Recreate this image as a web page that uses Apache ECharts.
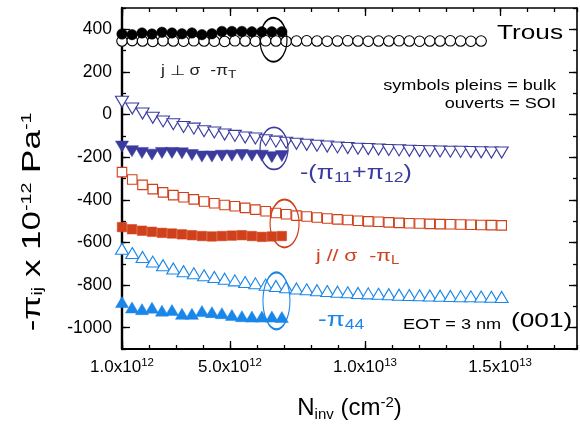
<!DOCTYPE html>
<html>
<head>
<meta charset="utf-8">
<script src="https://cdn.jsdelivr.net/npm/echarts@6/dist/echarts.min.js"></script>
<style>html,body{margin:0;padding:0;background:#fff;}#c{width:580px;height:437px;}</style>
</head>
<body>
<div id="c"></div>
<script>
// x values in units of 1e12 cm^-2
const nSOI = [1.00,1.38,1.76,2.14,2.52,2.90,3.28,3.66,4.04,4.42,4.80,5.18,5.56,5.94,6.32,6.70,7.08,7.46,7.84,8.22,8.60,8.98,9.36,9.74,10.12,10.50,10.88,11.26,11.64,12.02,12.40,12.78,13.16,13.54,13.92,14.30,14.68,15.06];
const nBulk = [1.00,1.37,1.74,2.11,2.48,2.85,3.22,3.59,3.96,4.33,4.70,5.07,5.44,5.81,6.18,6.55,6.92];

const trousBulk = [378,375,383,378,386,383,379,383,375,379,390,390,390,388,388,388,388];
const trousSOI = [345,347,345,343,346,345,344,346,345,344,343,346,345,344,346,345,343,345,346,345,344,345,346,345,344,345,345,346,345,344,345,345,346,345,344,345];
const p1112Bulk = [-150,-172,-180,-188,-180,-180,-182,-190,-197,-197,-193,-193,-190,-193,-193,-200,-195];
const p1112SOI = [60,28,5,-15,-32,-45,-58,-66,-78,-84,-94,-100,-108,-112,-120,-127,-132,-137,-142,-146,-150,-154,-157,-160,-162,-164,-166,-168,-170,-171,-172,-173,-174,-175,-176,-177,-178,-178];
const pLBulk = [-528,-538,-545,-550,-555,-558,-562,-566,-570,-572,-570,-568,-566,-570,-574,-572,-570];
const pLSOI = [-270,-305,-330,-350,-365,-378,-388,-398,-408,-416,-424,-430,-438,-446,-454,-462,-468,-474,-478,-483,-488,-492,-495,-498,-501,-503,-506,-508,-510,-511,-513,-514,-515,-516,-517,-518,-519,-520];
const p44Bulk = [-880,-905,-913,-906,-920,-917,-935,-935,-922,-927,-932,-940,-946,-948,-948,-948,-950];
const p44SOI = [-630,-650,-668,-690,-707,-722,-735,-745,-754,-762,-770,-778,-786,-792,-798,-804,-810,-816,-820,-824,-828,-831,-834,-837,-839,-841,-843,-845,-847,-848,-849,-850,-851,-852,-853,-854,-855,-856];

const xMajor = [1, 5, 10, 15];
const xTickLabels = ['1.0x10{sup|12}', '5.0x10{sup|12}', '1.0x10{sup|13}', '1.5x10{sup|13}'];
const yMajor = [-1000,-800,-600,-400,-200,0,200,400];

// ellipse annotations (centre in data units)
const ellipses = [
  {c:[6.61, 351], color:'#000', size:[27,44]},
  {c:[6.63, -159], color:'#3b3b9e', size:[28,42]},
  {c:[7.02, -511], color:'#d0401a', size:[29,48]},
  {c:[6.72, -874], color:'#1a86e8', size:[27,57]}
];

const NAVY = '#3b3b9e', ORANGE = '#d0401a', BLUE = '#1a86e8';
const FONT = 'Liberation Sans, Arial, sans-serif';
const STRETCH = 1.25;

function zip(xs, ys){ return ys.map((v,i)=>[xs[i], v]); }

const chart = echarts.init(document.getElementById('c'), null, {renderer:'canvas'});

const gridBox = {left:122, right:3, top:8, bottom:88, containLabel:false};

function xAx(grid, pos, tickLen, custom, lineW, showLine){
  const a = {
    type:'value', gridIndex:grid, position:pos, min:1, max:17.85, interval:1,
    axisLine:{show:showLine, onZero:false, lineStyle:{color:'#000', width:lineW}},
    axisTick:{show:true, inside:true, length:tickLen, lineStyle:{color:'#000', width:1.3}},
    axisLabel:{show:false},
    splitLine:{show:false}
  };
  if (custom) a.axisTick.customValues = xMajor;
  return a;
}
function yAx(grid, pos, tickLen, custom, lineW, showLine){
  const a = {
    type:'value', gridIndex:grid, position:pos, min:-1100, max:500, interval:100,
    axisLine:{show:showLine, onZero:false, lineStyle:{color:'#000', width:lineW}},
    axisTick:{show:true, inside:true, length:tickLen, lineStyle:{color:'#000', width:1.3}},
    axisLabel:{show:false},
    splitLine:{show:false}
  };
  if (custom) a.axisTick.customValues = yMajor;
  return a;
}

const xAxes = [
  xAx(0, 'bottom', 4, false, 2.2, true),
  xAx(0, 'top', 4, false, 1.6, true),
  xAx(1, 'bottom', 8, true, 2, false),
  xAx(1, 'top', 8, true, 1.5, false)
];
xAxes[0].axisLabel = {
  show:true, margin:8, fontSize:17, fontFamily:FONT, color:'#000',
  formatter: v => { const k = xMajor.indexOf(Math.round(v*100)/100); return k>=0 ? xTickLabels[k] : ''; },
  rich: {sup:{fontSize:11.5, verticalAlign:'top', padding:[0,0,8,0], fontFamily:FONT, color:'#000'}}
};
xAxes[0].name = 'N{sub|inv} (cm{sup|-2})';
xAxes[0].nameLocation = 'middle';
xAxes[0].nameGap = 46;
xAxes[0].nameTextStyle = {fontSize:24, fontFamily:FONT, color:'#000',
  rich:{sub:{fontSize:15, verticalAlign:'bottom', padding:[12,0,0,0], fontFamily:FONT}, sup:{fontSize:15, verticalAlign:'top', padding:[0,0,12,0], fontFamily:FONT}}};

const yAxes = [
  yAx(0, 'left', 4, false, 2.4, true),
  yAx(0, 'right', 4, false, 1.6, true),
  yAx(1, 'left', 8, true, 2, false),
  yAx(1, 'right', 8, true, 1.5, false)
];
yAxes[0].axisLabel = {
  show:true, margin:10, fontSize:17.5, fontFamily:FONT, color:'#000',
  formatter: v => (v % 200 === 0 ? String(v) : '')
};

function sc(name, xs, ys, symbol, size, color, filled, rotate){
  return {
    type:'scatter', name, data: zip(xs, ys), symbol, symbolSize:size,
    symbolRotate: rotate || 0,
    itemStyle: filled ? {color, borderColor:color, borderWidth:0.5, opacity:1}
                      : {color:'#fff', borderColor:color, borderWidth:1.1, opacity:1},
    xAxisIndex:0, yAxisIndex:0, z:3, clip:false
  };
}

const markSeries = {
  type:'scatter', data:[], xAxisIndex:0, yAxisIndex:0, z:5,
  markPoint:{
    silent:true, label:{show:false},
    data: ellipses.map(e => ({coord:e.c, symbol:'circle', symbolSize:e.size,
      itemStyle:{color:'rgba(0,0,0,0)', borderColor:e.color, borderWidth:1.5}}))
  }
};

const series = [
  sc('trousSOI', nSOI, trousSOI, 'circle', 10.5, '#000', false),
  sc('trousBulk', nBulk, trousBulk, 'circle', 10.5, '#000', true),
  sc('p1112SOI', nSOI, p1112SOI, 'triangle', [13,11], NAVY, false, 180),
  sc('p1112Bulk', nBulk, p1112Bulk, 'triangle', [13,11], NAVY, true, 180),
  sc('pLSOI', nSOI, pLSOI, 'rect', 9.5, ORANGE, false),
  sc('pLBulk', nBulk, pLBulk, 'rect', 9.5, ORANGE, true),
  sc('p44SOI', nSOI, p44SOI, 'triangle', [13,11], BLUE, false),
  sc('p44Bulk', nBulk, p44Bulk, 'triangle', [13,11], BLUE, true),
  markSeries
];

function subsup(size, color){
  return {
    sub:{fontSize:size, fill:color, fontFamily:FONT, verticalAlign:'bottom', padding:[size*0.8,0,0,0]},
    sup:{fontSize:size, fill:color, fontFamily:FONT, verticalAlign:'top', padding:[0,0,size*0.8,0]}
  };
}
function txt(x, y, text, size, color, align, subSize){
  return {
    type:'text', x, y, z:10, scaleX:STRETCH, scaleY:1,
    style:{text, fontSize:size, fontFamily:FONT, fill:color, align:align||'left', verticalAlign:'middle',
      rich: subSize ? subsup(subSize, color) : {}}
  };
}

const graphics = [
  txt(563, 33, 'Trous', 21, '#000', 'right'),
  txt(556, 86, 'symbols pleins = bulk', 14.5, '#000', 'right'),
  txt(556, 104, 'ouverts = SOI', 14.5, '#000', 'right'),
  txt(161, 71, 'j \u22A5 \u03C3  -\u03C0{sub|T}', 14, '#222', 'left', 11),
  txt(300, 173, '-(\u03C0{sub|11}+\u03C0{sub|12})', 20, NAVY, 'left', 14),
  txt(316, 256, 'j // \u03C3  -\u03C0{sub|L}', 17, ORANGE, 'left', 12),
  txt(318, 320, '-\u03C0{sub|44}', 21, BLUE, 'left', 14),
  txt(403, 325, 'EOT = 3 nm', 14.5, '#000', 'left'),
  txt(511, 321, '(001)', 21, '#000', 'left'),
  {
    type:'text', x:33, y:222, rotation:Math.PI/2, z:10, scaleX:1.4, scaleY:1,
    style:{text:'-\u03C0{sub|ij} x 10{sup|-12} Pa{sup|-1}', fontSize:25, fontFamily:FONT, fill:'#000',
      align:'center', verticalAlign:'middle', rich:subsup(14,'#000')}
  }
];

chart.setOption({
  animation:false,
  backgroundColor:'#fff',
  grid:[Object.assign({}, gridBox), Object.assign({}, gridBox)],
  xAxis:xAxes,
  yAxis:yAxes,
  series,
  graphic:graphics
});
</script>
</body>
</html>
